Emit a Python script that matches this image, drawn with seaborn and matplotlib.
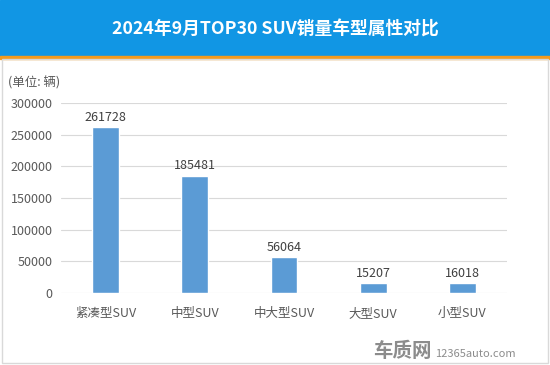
import matplotlib
matplotlib.use("Agg")
import matplotlib.pyplot as plt
import matplotlib.patches as mpatches
import seaborn as sns
import pandas as pd

# ==========================
# DATA
# ==========================
categories = ["紧凑型SUV", "中型SUV", "中大型SUV", "大型SUV", "小型SUV"]
sales = [261728, 185481, 56064, 15207, 16018]
y_ticks = [0, 50000, 100000, 150000, 200000, 250000, 300000]

df = pd.DataFrame({"type": categories, "sales": sales})

# ==========================
# STYLE
# ==========================
sns.set_style("white")
plt.rcParams["font.family"] = ["Noto Sans CJK SC", "DejaVu Sans"]

fig = plt.figure(figsize=(5.5, 3.65), dpi=100)
fig.patch.set_facecolor("white")

# header band + orange rule + light border
fig.patches.append(mpatches.Rectangle((0, 1 - 56 / 365), 1, 56 / 365,
                                      transform=fig.transFigure, color="#1196E4", zorder=0))
fig.patches.append(mpatches.Rectangle((0, 1 - 59 / 365), 1, 3 / 365,
                                      transform=fig.transFigure, color="#F39A1E", zorder=0))
fig.patches.append(mpatches.Rectangle((2 / 550, 2 / 365), 546 / 550, 1 - 61 / 365,
                                      transform=fig.transFigure, fill=False,
                                      edgecolor="#D9D9D9", linewidth=1, zorder=0))

fig.text(0.5, 1 - 30 / 365, "2024年9月TOP30 SUV销量车型属性对比", color="white",
         fontsize=12.8, fontweight="bold", ha="center", va="center")

ax = fig.add_axes([61 / 550, 72 / 365, 446 / 550, 190 / 365])

# ==========================
# BAR CHART
# ==========================
sns.barplot(data=df, x="type", y="sales", color="#5B9BD5", width=0.3,
            saturation=1, ax=ax, zorder=3)

for i, v in enumerate(sales):
    ax.text(i, v + 5000, str(v), ha="center", va="bottom", fontsize=9, color="#404040")

ax.set_ylim(0, 300000)
ax.set_yticks(y_ticks)
ax.set_yticklabels([str(t) for t in y_ticks])
ax.yaxis.grid(True, color="#D9D9D9", linewidth=0.8, zorder=0)
ax.set_axisbelow(True)
for s in ax.spines.values():
    s.set_visible(False)
ax.tick_params(axis="both", length=0, labelsize=9, labelcolor="#595959")
ax.tick_params(axis="x", pad=10)
ax.tick_params(axis="y", pad=6)
ax.set_xlabel("")
ax.set_ylabel("")

fig.text(8 / 550, 1 - 83 / 365, "(单位: 辆)", fontsize=9, color="#595959",
         ha="left", va="center")

# watermark
fig.text(432 / 550, 1 - 351 / 365, "车质网", fontsize=14, fontweight="bold",
         color="#8C8C8C", ha="right", va="center")
fig.text(435 / 550, 1 - 354 / 365, "12365auto.com", fontsize=8,
         color="#8C8C8C", ha="left", va="center")

fig.savefig("out.png", dpi=100)
